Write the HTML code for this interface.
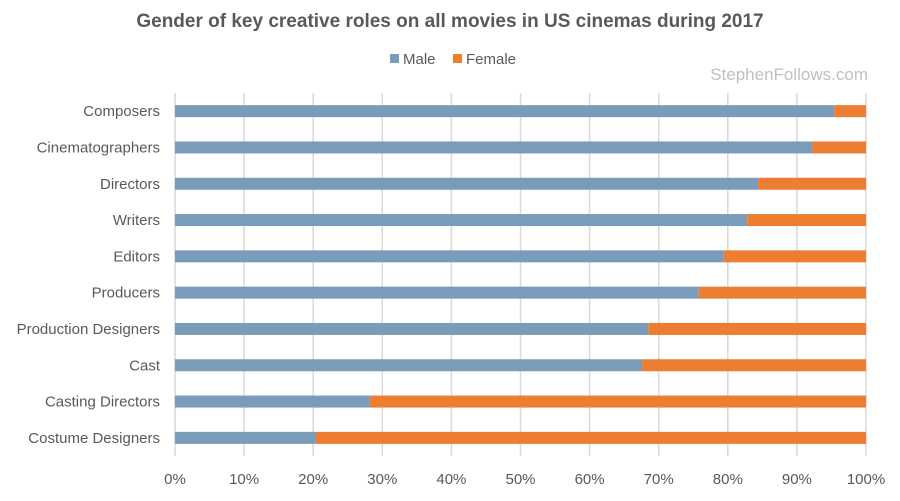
<!DOCTYPE html>
<html><head><meta charset="utf-8"><style>
body{margin:0;background:#fff;font-family:"Liberation Sans",sans-serif}
svg text{font-family:"Liberation Sans",sans-serif}
</style></head><body>
<svg id="chart" width="900" height="496" viewBox="0 0 900 496">
<text x="450" y="27" text-anchor="middle" font-size="19" font-weight="bold" fill="#595959">Gender of key creative roles on all movies in US cinemas during 2017</text>
<g>
<rect x="390" y="54" width="9" height="9" fill="#7a9cba"/>
<text x="403" y="64" font-size="15" fill="#595959">Male</text>
<rect x="453" y="54" width="9" height="9" fill="#ed7d31"/>
<text x="466" y="64" font-size="15" fill="#595959">Female</text>
</g>
<text x="868" y="80" text-anchor="end" font-size="17" fill="#c0c0c0">StephenFollows.com</text>
<g id="grid"></g><g id="bars"></g><g id="labels"></g><g id="ticks"></g>
</svg>
<script>
const categories=["Composers","Cinematographers","Directors","Writers","Editors","Producers","Production Designers","Cast","Casting Directors","Costume Designers"];
const maleValues=[95.4,92.2,84.4,82.8,79.4,75.8,68.5,67.6,28.2,20.4];
const tickLabels=["0%","10%","20%","30%","40%","50%","60%","70%","80%","90%","100%"];
const tickValues=[0,10,20,30,40,50,60,70,80,90,100];
const NS="http://www.w3.org/2000/svg";
const x0=175,x1=866,yTop=93,rowH=36.3;
const xs=v=>x0+(x1-x0)*v/100;
const yc=i=>yTop+rowH*(i+0.5);
function mk(t,a,p){const e=document.createElementNS(NS,t);for(const k in a)e.setAttribute(k,a[k]);p.appendChild(e);return e;}
const grid=document.getElementById('grid'),bars=document.getElementById('bars'),labels=document.getElementById('labels'),ticks=document.getElementById('ticks');
tickValues.forEach((v,i)=>{
 const l=mk('line',{x1:xs(v),x2:xs(v),y1:yTop,y2:yTop+rowH*categories.length,stroke:'#d9d9d9','stroke-width':1.5},grid);
 
 
 const t=mk('text',{x:xs(v),y:484,'text-anchor':'middle','font-size':15,fill:'#595959'},ticks);
 t.textContent=tickLabels[i];
 
 
});
categories.forEach((c,i)=>{
 const y=yc(i)-6,m=maleValues[i];
 const b1=mk('rect',{x:xs(0),y:y,width:xs(m)-xs(0),height:12,fill:'#7a9cba'},bars);
 
 
 const b2=mk('rect',{x:xs(m),y:y,width:xs(100)-xs(m),height:12,fill:'#ed7d31'},bars);
 
 
 const t=mk('text',{x:160,y:yc(i)+5,'text-anchor':'end','font-size':15,fill:'#595959'},labels);
 t.textContent=c;
 
 
});
</script>
</body></html>
